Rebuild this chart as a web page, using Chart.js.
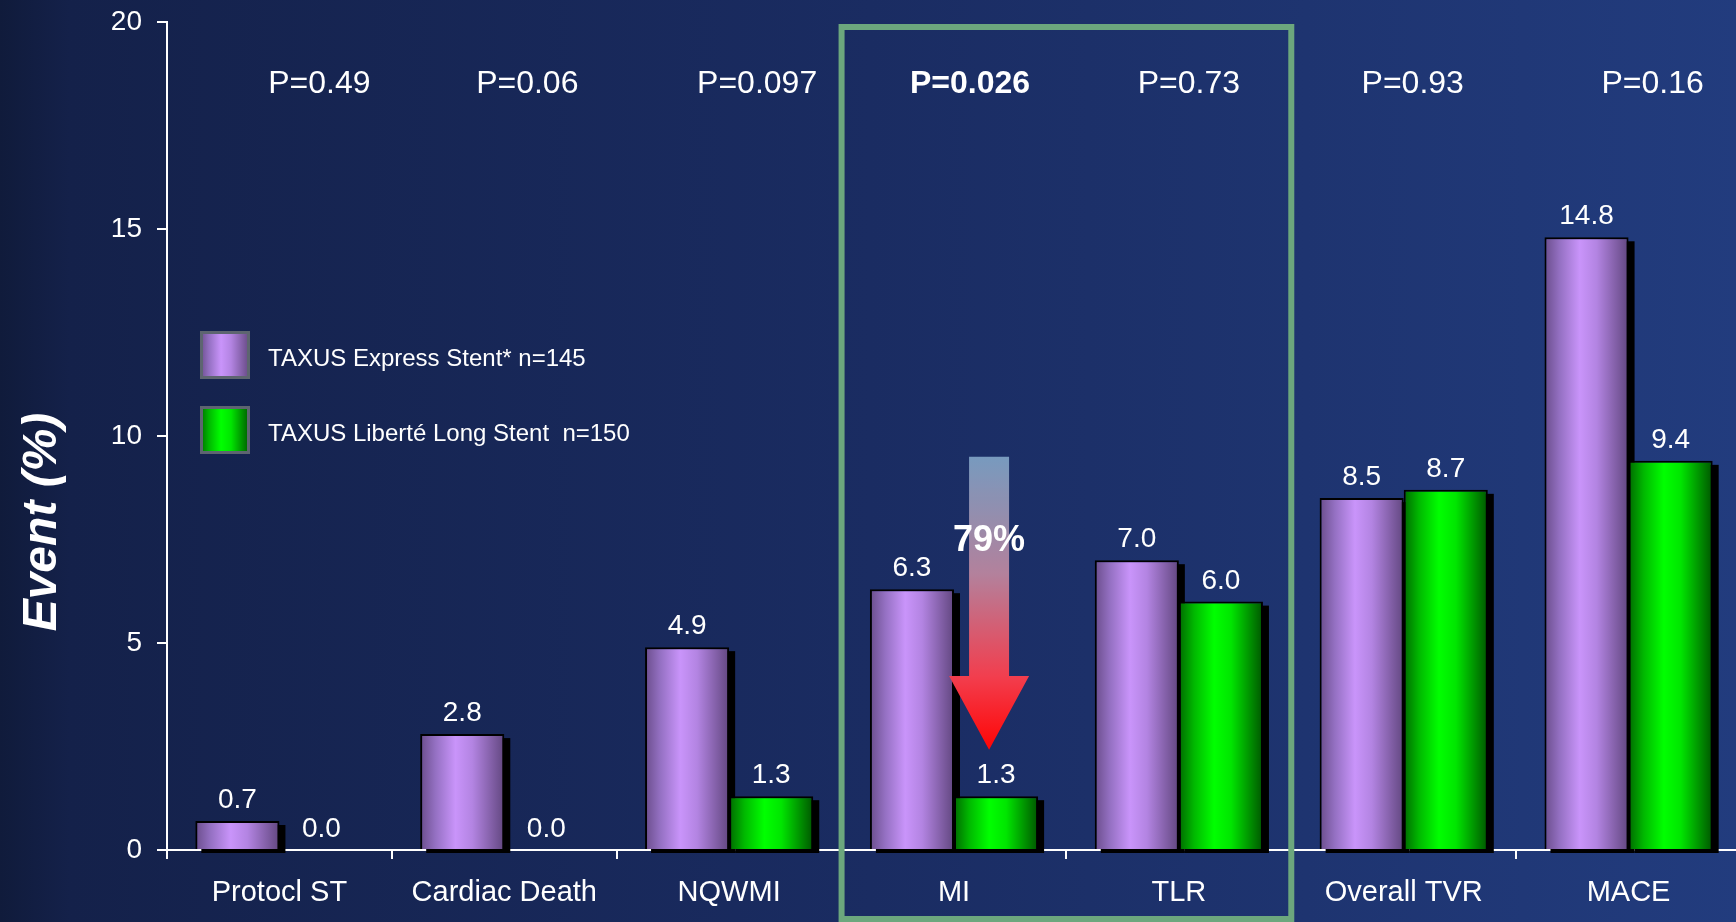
<!DOCTYPE html>
<html>
<head>
<meta charset="utf-8">
<script src="https://cdn.jsdelivr.net/npm/chart.js@4.4.1/dist/chart.umd.min.js"></script>
<style>
  html, body { margin: 0; padding: 0; overflow: hidden; background: #111c3d; }
  #wrap {
    width: 1741px; height: 922px;
    background: linear-gradient(to right, #101b3b 0%, #14214a 4%, #1a2c62 50%, #223c7e 100%);
  }
  canvas { display: block; }
</style>
</head>
<body>
<div id="wrap"><canvas id="chart" width="1741" height="922"></canvas></div>
<script>
// Endpoints and event rates (%)
const categories = ['Protocl ST', 'Cardiac Death', 'NQWMI', 'MI', 'TLR', 'Overall TVR', 'MACE'];
const expressValues = [0.7, 2.8, 4.9, 6.3, 7.0, 8.5, 14.8];
const liberteValues = [0.0, 0.0, 1.3, 1.3, 6.0, 8.7, 9.4];
const pValues = ['P=0.49', 'P=0.06', 'P=0.097', 'P=0.026', 'P=0.73', 'P=0.93', 'P=0.16'];
const boldPIndex = [3];
const seriesNames = ['TAXUS Express Stent* n=145', 'TAXUS Liberté Long Stent  n=150'];
const yTicks = [0, 5, 10, 15, 20];
const yTitle = 'Event (%)';
const highlightedCategories = [3, 4];
const reductionLabel = '79%';

// horizontal nudges (px) for the p-value captions
const pLabelShift = [40, 23, 28, 16, 10, 9, 24];

const FONT = "'Liberation Sans', Arial, Helvetica, sans-serif";
const CAT_PCT = 0.748;

const purpleStops = [[0, '#6a4d8b'], [0.18, '#9470c2'], [0.42, '#c994fa'], [0.62, '#b384e2'], [1, '#624780']];
const greenStops = [[0, '#006a00'], [0.18, '#00b800'], [0.42, '#00ff00'], [0.62, '#00e600'], [1, '#005600']];

function barFill(ctx, stops) {
  const chart = ctx.chart;
  const xs = chart.scales.x;
  if (!xs || !chart.chartArea) return stops[2][1];
  const center = xs.getPixelForValue(ctx.dataIndex);
  const catW = xs.width / categories.length;
  const barW = catW * CAT_PCT / 2;
  const left = ctx.datasetIndex === 0 ? center - barW : center;
  const g = chart.ctx.createLinearGradient(left, 0, left + barW, 0);
  stops.forEach(s => g.addColorStop(s[0], s[1]));
  return g;
}

function boxFill(c, x, w, stops) {
  const g = c.createLinearGradient(x, 0, x + w, 0);
  stops.forEach(s => g.addColorStop(s[0], s[1]));
  return g;
}

// Drop shadows under all bars
const shadowPlugin = {
  id: 'barShadows',
  beforeDatasetsDraw(chart) {
    const c = chart.ctx;
    c.save();
    c.fillStyle = '#000';
    chart.data.datasets.forEach((ds, di) => {
      chart.getDatasetMeta(di).data.forEach(el => {
        const p = el.getProps(['x', 'y', 'base', 'width'], true);
        const h = p.base - p.y;
        if (h < 1) return;
        c.fillRect(p.x - p.width / 2 + 6, p.y + 4, p.width, h);
      });
    });
    c.restore();
  }
};

// Value labels, p-values, highlight frame, arrow, legend and axis title
const annotationPlugin = {
  id: 'annotations',
  afterDatasetsDraw(chart) {
    const c = chart.ctx;
    const xs = chart.scales.x, ys = chart.scales.y;
    const catW = xs.width / categories.length;
    c.save();
    c.fillStyle = '#ffffff';
    c.font = `28px ${FONT}`;
    c.textAlign = 'center';
    c.textBaseline = 'alphabetic';
    chart.data.datasets.forEach((ds, di) => {
      chart.getDatasetMeta(di).data.forEach((el, i) => {
        const p = el.getProps(['x', 'y'], true);
        c.fillText(ds.data[i].toFixed(1), p.x, p.y - 13);
      });
    });

    // reduction arrow over the MI pair
    const ax = xs.getPixelForValue(3) + catW * 0.156;
    const yTop = ys.getPixelForValue(9.5);
    const yHead = ys.getPixelForValue(4.2);
    const yTip = ys.getPixelForValue(2.42);
    const g = c.createLinearGradient(0, yTop, 0, yTip);
    g.addColorStop(0, 'rgba(125,160,195,0.95)');
    g.addColorStop(0.4, '#b3819c');
    g.addColorStop(0.75, '#f23e4e');
    g.addColorStop(1, '#ff0505');
    c.fillStyle = g;
    c.beginPath();
    c.moveTo(ax - 20, yTop);
    c.lineTo(ax + 20, yTop);
    c.lineTo(ax + 20, yHead);
    c.lineTo(ax + 40, yHead);
    c.lineTo(ax, yTip);
    c.lineTo(ax - 40, yHead);
    c.lineTo(ax - 20, yHead);
    c.closePath();
    c.fill();
    c.fillStyle = '#ffffff';
    c.font = `bold 36px ${FONT}`;
    c.textBaseline = 'middle';
    c.fillText(reductionLabel, ax, ys.getPixelForValue(7.45));
    c.restore();
  },
  afterDraw(chart) {
    const c = chart.ctx;
    const xs = chart.scales.x;
    const area = chart.chartArea;
    const catW = xs.width / categories.length;
    c.save();

    // p-values along the top
    c.fillStyle = '#ffffff';
    c.textAlign = 'center';
    c.textBaseline = 'middle';
    pValues.forEach((t, i) => {
      c.font = (boldPIndex.includes(i) ? 'bold ' : '') + `32px ${FONT}`;
      c.fillText(t, xs.getPixelForValue(i) + pLabelShift[i], 84);
    });

    // frame around highlighted endpoints
    const l = xs.getPixelForValue(highlightedCategories[0]) - catW / 2;
    const r = xs.getPixelForValue(highlightedCategories[highlightedCategories.length - 1]) + catW / 2;
    c.strokeStyle = '#6ca77d';
    c.lineWidth = 6;
    c.strokeRect(l, 27, r - l, 892);

    // legend
    const legendFills = [purpleStops, greenStops];
    const tops = [331, 406];
    seriesNames.forEach((name, i) => {
      c.fillStyle = boxFill(c, 200, 50, legendFills[i]);
      c.fillRect(200, tops[i], 50, 48);
      c.strokeStyle = '#5d6570';
      c.lineWidth = 3;
      c.strokeRect(201.5, tops[i] + 1.5, 47, 45);
      c.fillStyle = '#ffffff';
      c.font = `24px ${FONT}`;
      c.textAlign = 'left';
      c.textBaseline = 'middle';
      c.fillText(name, 268, tops[i] + 28);
    });

    // y-axis title
    c.translate(43, (area.top + area.bottom) / 2 + 86);
    c.rotate(-Math.PI / 2);
    c.font = `bold italic 48px ${FONT}`;
    c.textAlign = 'center';
    c.textBaseline = 'middle';
    c.fillStyle = '#ffffff';
    c.fillText(yTitle, 0, 0);
    c.restore();
  }
};

new Chart(document.getElementById('chart'), {
  type: 'bar',
  data: {
    labels: categories,
    datasets: [
      {
        label: seriesNames[0],
        data: expressValues,
        backgroundColor: ctx => barFill(ctx, purpleStops),
        borderColor: '#000000',
        borderWidth: 2
      },
      {
        label: seriesNames[1],
        data: liberteValues,
        backgroundColor: ctx => barFill(ctx, greenStops),
        borderColor: '#000000',
        borderWidth: 2
      }
    ]
  },
  options: {
    responsive: false,
    animation: false,
    devicePixelRatio: 1,
    layout: { padding: { top: 22, right: 0, bottom: 0, left: 0 } },
    datasets: { bar: { categoryPercentage: CAT_PCT, barPercentage: 1 } },
    plugins: { legend: { display: false }, tooltip: { enabled: false } },
    scales: {
      x: {
        z: 1,
        afterFit: axis => { axis.height = 72; axis.paddingLeft = 0; axis.paddingRight = 0; },
        grid: { display: true, drawOnChartArea: false, drawTicks: true, tickLength: 9, color: '#ffffff', lineWidth: 2, offset: true },
        border: { display: true, color: '#ffffff', width: 2 },
        ticks: { color: '#ffffff', font: { family: FONT, size: 29 }, padding: 17, maxRotation: 0, autoSkip: false }
      },
      y: {
        min: 0,
        max: 20,
        afterFit: axis => { axis.width = 167; axis.paddingTop = 0; axis.paddingBottom = 0; },
        afterBuildTicks: axis => { axis.ticks = yTicks.map(v => ({ value: v })); },
        grid: { display: true, drawOnChartArea: false, drawTicks: true, tickLength: 10, color: '#ffffff', lineWidth: 2 },
        border: { display: true, color: '#ffffff', width: 2 },
        ticks: { color: '#ffffff', font: { family: FONT, size: 28 }, padding: 15 }
      }
    }
  },
  plugins: [shadowPlugin, annotationPlugin]
});
</script>
</body>
</html>
